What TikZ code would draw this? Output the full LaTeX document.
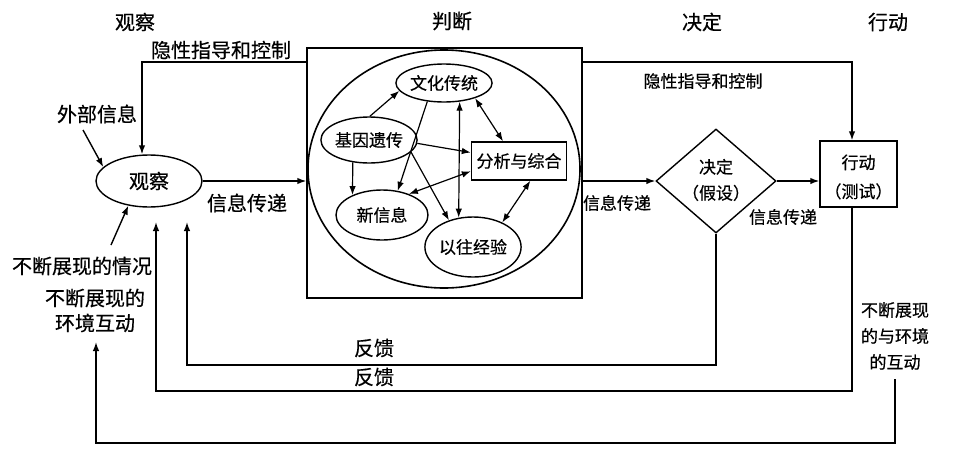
\documentclass[tikz,border=0pt]{standalone}
\usepackage{fontspec}
\newfontfamily\cjk{Noto Sans CJK SC}[FakeBold=0.5]
\usetikzlibrary{arrows.meta,shapes.geometric}
\begin{document}
\begin{tikzpicture}[x=1pt,y=-1pt,
  line width=1.4pt,
  >={Latex[length=9pt,width=6.5pt]},
  big/.style={font=\cjk\fontsize{20}{25}\selectfont},
  small/.style={font=\cjk\fontsize{17}{26}\selectfont},
  ell/.style={draw,ellipse,inner sep=0pt},
  lbl/.style={inner sep=0pt,align=center},
  inner/.style={line width=1.2pt}]
\fill[white] (0,0) rectangle (960,469);
\useasboundingbox (0,0) rectangle (960,469);
% headers
\node[big,lbl] (hO) at (135,22) {观察};
\node[big,lbl] (hJ) at (452,21) {判断};
\node[big,lbl] (hD) at (702,22) {决定};
\node[big,lbl] (hA) at (888,22) {行动};
% main box
\node[draw,minimum width=275pt,minimum height=250pt,inner sep=0pt] (B) at (444.5,173) {};
\node[ell,line width=1.6pt,minimum width=272pt,minimum height=238pt] (E) at (444,169) {};
% inner nodes
\node[ell,small,minimum width=96pt,minimum height=38pt] (W) at (444,83) {文化传统};
\node[ell,small,minimum width=96pt,minimum height=46pt] (J) at (369,140) {基因遗传};
\node[draw,small,minimum width=95pt,minimum height=38pt,inner sep=0pt] (F) at (519,161) {分析与综合};
\node[ell,small,minimum width=92pt,minimum height=50pt] (X) at (382,215) {新信息};
\node[ell,small,minimum width=96pt,minimum height=60pt] (Y) at (473,247) {以往经验};
% observe
\node[ell,big,minimum width=106pt,minimum height=52pt] (O) at (149,181) {观察};
% decide
\node[draw,diamond,minimum width=120pt,minimum height=104pt,inner sep=0pt] (D) at (716,181) {};
\node[small,lbl] (Dt) at (716,180) {决定\\（假设）};
% act
\node[draw,minimum width=77pt,minimum height=66pt,inner sep=0pt] (A) at (858.5,174) {};
\node[small,lbl,font=\cjk\fontsize{17}{29}\selectfont] (At) at (858.5,177) {行动\\（测试）};
% labels
\node[big,lbl] (l1) at (221,50) {隐性指导和控制};
\node[small,lbl] (l2) at (703,81) {隐性指导和控制};
\node[big,lbl] (l3) at (97,114) {外部信息};
\node[big,lbl] (l4) at (247,203) {信息传递};
\node[small,lbl] (l5) at (617,203) {信息传递};
\node[small,lbl] (l6) at (783,217) {信息传递};
\node[big,lbl] (l7) at (82,266) {不断展现的情况};
\node[big,lbl] (l8) at (95,310.5) {不断展现的\\环境互动};
\node[big,lbl] (fb1) at (374,348) {反馈};
\node[big,lbl] (fb2) at (374,377) {反馈};
\node[small,lbl] (l9) at (895,336) {不断展现\\的与环境\\的互动};
% coordinates
\coordinate (tl) at (142,62);
\coordinate (tr) at (852,62);
\coordinate (f1) at (187,222);
\coordinate (f2) at (156,222);
\coordinate (c1) at (187,365);
\coordinate (c2) at (156,391);
\coordinate (c3) at (96,443);
\coordinate (f3) at (96,342);
\coordinate (r3) at (895,379);
\coordinate (s3) at (83,130);
\coordinate (s7) at (111,245);
% main flow
\draw[->] (O.east) -- (O.east -| B.west);
\draw[->] (B.east |- D.west) -- (D.west);
\draw[->] (D.east) -- (D.east -| A.west);
\draw[->] (B.west |- tl) -| (O.north -| tl);
\draw[->] (B.east |- tr) -| (A.north -| tr);
% feedback
\draw[->] (D.south) |- (c1) -- (f1);
\draw[->] (A.south -| tr) |- (c2) -- (f2);
\draw[->] (r3) |- (c3) -- (f3);
\draw[->] (s3) -- (O.163);
\draw[->] (s7) -- (O.230);
% inner connectors
\draw[->,inner] (J.88) -- (W.190);
\draw[->,inner] (W.228) -- (X.57);
\draw[<->,inner] (W.310) -- (Y.116);
\draw[<->,inner] (W.334) -- (F.129);
\draw[->,inner] (J.356) -- (F.170);
\draw[->,inner] (J.234) -- (X.146);
\draw[->,inner] (J.344) -- (Y.132);
\draw[<->,inner] (X.38) -- (F.192);
\draw[<->,inner] (F.300) -- (Y.40);
\end{tikzpicture}
\end{document}
